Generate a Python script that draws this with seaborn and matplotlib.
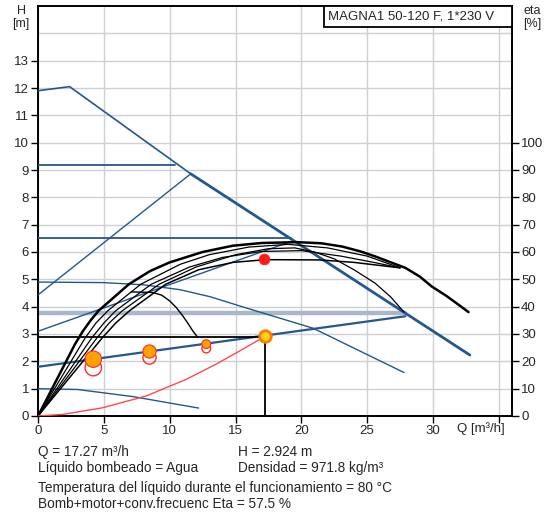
import matplotlib
matplotlib.use("Agg")
import matplotlib.pyplot as plt
import matplotlib.patches as mpatches
import seaborn as sns

# ---- data (Q in m3/h, H in m; eta curves on H scale, 1 m = 10 %) ----
max_q = [0, 2.4, 11.6, 32.8]
max_h = [11.9, 12.05, 8.86, 2.23]

cp_high_q = [0, 10.4]
cp_high_h = [9.2, 9.2]
cp_mid_q = [0, 19.2]
cp_mid_h = [6.5, 6.5]
band_q = [0, 27.9]
band_h = [3.77, 3.77]

pp_high_q = [0, 11.6]
pp_high_h = [4.43, 8.86]
pp_mid_q = [0, 19.3]
pp_mid_h = [3.1, 6.4]
pp_low_q = [0, 27.9]
pp_low_h = [1.8, 3.65]

drop_a_q = [0, 5, 8, 10.8, 13.1, 15.9, 20.9, 27.8]
drop_a_h = [4.9, 4.88, 4.8, 4.62, 4.36, 3.94, 3.21, 1.59]
drop_b_q = [0, 3, 7.2, 12.2]
drop_b_h = [1.0, 0.97, 0.71, 0.29]

eta_a_q = [0, 2.8, 3.4, 4.0, 4.6, 6.9, 8.5, 10, 12.5, 14.8, 17, 19.7, 21.5, 23.1,
           24.5, 25.6, 27.9, 29, 29.9, 31, 32, 32.7]
eta_a_h = [0, 2.62, 3.1, 3.5, 3.85, 4.82, 5.3, 5.62, 6.0, 6.23, 6.33, 6.36, 6.32, 6.2,
           6.02, 5.84, 5.42, 5.1, 4.74, 4.4, 4.05, 3.8]
eta_b_q = [0, 3.6, 4.4, 5.3, 7.8, 10.8, 13, 16, 19, 22, 25, 27.5]
eta_b_h = [0, 2.87, 3.4, 3.85, 4.82, 5.55, 5.9, 6.18, 6.28, 6.15, 5.85, 5.42]
eta_c_q = [0, 4.1, 5.0, 5.9, 8.6, 11.5, 14, 17, 20, 23, 25.5, 27.5]
eta_c_h = [0, 2.87, 3.4, 3.85, 4.82, 5.45, 5.8, 6.02, 6.05, 5.85, 5.62, 5.42]
eta_d_q = [0, 4.5, 5.4, 6.4, 9.2, 12, 15, 17.5, 19.5, 21, 22.5, 24, 25.6, 26.8, 27.8]
eta_d_h = [0, 2.87, 3.4, 3.85, 4.82, 5.45, 5.9, 6.12, 6.15, 6.0, 5.75, 5.35, 4.86, 4.35, 3.8]
eta_e_q = [0, 4.9, 5.9, 6.95, 9.7, 12.2, 14.8, 17.3, 21.4, 24, 27.5]
eta_e_h = [0, 2.87, 3.4, 3.85, 4.82, 5.35, 5.62, 5.72, 5.71, 5.62, 5.42]

arc_q = [7.07, 8.7, 9.4, 10.0, 10.5, 11.0, 11.4, 11.76, 12.14]
arc_h = [4.54, 4.52, 4.42, 4.21, 3.97, 3.66, 3.38, 3.11, 2.87]

sys_q = [0, 1.9, 4.9, 8.2, 11.25, 13.5, 15.1, 17.27]
sys_h = [0, 0.06, 0.3, 0.73, 1.34, 1.89, 2.32, 2.92]

duty_q = 17.27
duty_h = 2.92
duty_hline = 2.88
eta_pt_q = 17.15
eta_pt_h = 5.75

dots_q = [4.2, 8.47, 12.78]
dots_h = [2.08, 2.36, 2.63]
rings_h = [1.77, 2.14, 2.47]
dots_s = [140, 90, 40]

x_ticks = [0, 5, 10, 15, 20, 25, 30, 35]
x_labels = ["0", "5", "10", "15", "20", "25", "30", ""]
h_ticks = list(range(0, 14))
eta_ticks = list(range(0, 101, 10))

BLUE = "#24578f"
BAND = "#a9b7cb"
RED = "#ff2a2a"
ORANGE = "#ffa200"
GRID = "#cdd1d6"

sns.set_theme(style="white")
plt.rcParams["font.family"] = ["Liberation Sans", "DejaVu Sans"]

fig = plt.figure(figsize=(5.5, 5.13), dpi=100)
ax = fig.add_axes([38 / 550, 97 / 513, 474 / 550, 410 / 513])


def line(q, h, color, lw, z=3):
    sns.lineplot(x=q, y=h, ax=ax, color=color, lw=lw, estimator=None, sort=False,
                 legend=False, zorder=z)


ax.set_xlim(0, 36)
ax.set_ylim(0, 15)
ax.set_xticks(x_ticks)
ax.set_xticklabels(x_labels)
ax.set_yticks(h_ticks)
ax.grid(True, color=GRID, lw=1.0, zorder=0)
ax.axhline(14, color=GRID, lw=1.0, zorder=0)
ax.set_axisbelow(True)
ax.tick_params(axis="both", direction="out", length=5, width=1, color="black",
               labelsize=9.5, pad=1.5, left=True, bottom=True)
for sp in ax.spines.values():
    sp.set_color("black")
    sp.set_linewidth(1.4)

# blue setpoint lines
line(band_q, band_h, BAND, 3.2, z=2)
line(cp_high_q, cp_high_h, BLUE, 1.3)
line(cp_mid_q, cp_mid_h, BLUE, 1.3)
line(pp_high_q, pp_high_h, BLUE, 1.0)
line(pp_mid_q, pp_mid_h, BLUE, 1.0)
line(pp_low_q, pp_low_h, BLUE, 1.6)
line(drop_a_q, drop_a_h, BLUE, 1.0)
line(drop_b_q, drop_b_h, BLUE, 1.0)
line(max_q[:3], max_h[:3], BLUE, 1.2)
line(max_q[2:], max_h[2:], BLUE, 2.0)

# efficiency curves
line(eta_b_q, eta_b_h, "black", 0.9)
line(eta_c_q, eta_c_h, "black", 0.9)
line(eta_d_q, eta_d_h, "black", 0.9)
line(eta_e_q, eta_e_h, "black", 1.1)
line(eta_a_q, eta_a_h, "black", 1.8)
line(arc_q, arc_h, "black", 1.0)

# duty point lines and system curve
line([0, duty_q], [duty_hline, duty_hline], "black", 1.3)
line([duty_q, duty_q], [0, duty_h], "black", 1.3)
line(sys_q, sys_h, "#ff4a4a", 1.0)

sns.scatterplot(x=dots_q, y=rings_h, s=dots_s, ax=ax, facecolor="none",
                edgecolor=RED, linewidth=1.0, zorder=5, legend=False)
sns.scatterplot(x=dots_q, y=dots_h, s=dots_s, ax=ax, color=ORANGE,
                edgecolor=RED, linewidth=0.8, zorder=6, legend=False)
sns.scatterplot(x=[duty_q], y=[duty_h], s=70, ax=ax, color="#ffd21a",
                edgecolor="#ff7a00", linewidth=2.0, zorder=7, legend=False)
sns.scatterplot(x=[eta_pt_q], y=[eta_pt_h], s=60, ax=ax, color="#ff1a1a",
                edgecolor="#ff1a1a", linewidth=0.5, zorder=7, legend=False)

# right eta axis
ax2 = ax.twinx()
ax2.set_ylim(0, 150)
ax2.set_yticks(eta_ticks)
ax2.tick_params(axis="y", direction="out", length=5, width=1, color="black",
                labelsize=9.5, pad=1.5, right=True)
ax2.grid(False)
for sp in ax2.spines.values():
    sp.set_visible(False)

# model box
ax.add_patch(mpatches.Rectangle((0.603, 0.948), 0.397, 0.052, transform=ax.transAxes,
                                facecolor="white", edgecolor="black", lw=1.3, zorder=8,
                                clip_on=False))
ax.text(0.612, 0.974, "MAGNA1 50-120 F, 1*230 V", transform=ax.transAxes, fontsize=9.5,
        va="center", ha="left", zorder=9)

fig.text(21 / 550, 1 - 11 / 513, "H", fontsize=9, ha="center", va="center")
fig.text(21 / 550, 1 - 24 / 513, "[m]", fontsize=9, ha="center", va="center")
fig.text(532 / 550, 1 - 11 / 513, "eta", fontsize=9, ha="center", va="center")
fig.text(532 / 550, 1 - 24 / 513, "[%]", fontsize=9, ha="center", va="center")
ax.text(33.6, -0.03, "Q [m³/h]", transform=ax.get_xaxis_transform(), fontsize=9.5,
        ha="center", va="center")

info = [
    (38, 452, "Q = 17.27 m³/h"),
    (238, 452, "H = 2.924 m"),
    (38, 468, "Líquido bombeado = Agua"),
    (238, 468, "Densidad = 971.8 kg/m³"),
    (38, 488, "Temperatura del líquido durante el funcionamiento = 80 °C"),
    (38, 504, "Bomb+motor+conv.frecuenc Eta = 57.5 %"),
]
for px, py, s in info:
    fig.text(px / 550, 1 - py / 513, s, fontsize=9.8, ha="left", va="center")

fig.savefig("out.png", dpi=100)
